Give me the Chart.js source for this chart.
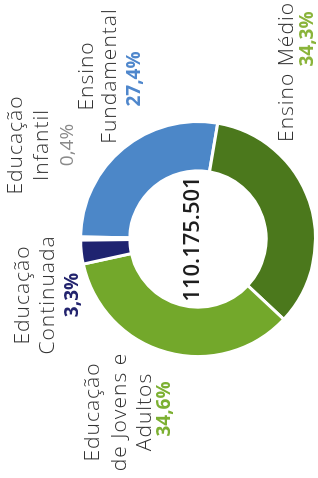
<!DOCTYPE html>
<html>
<head>
<meta charset="utf-8">
<script src="https://cdn.jsdelivr.net/npm/chart.js@4"></script>
<style>
  html, body { margin: 0; padding: 0; background: #fff; }
  body { width: 318px; height: 478px; overflow: hidden; position: relative; }
  /* o gráfico original está girado 90° (texto de baixo para cima) */
  #wrap {
    position: absolute; left: -80px; top: 80px;
    width: 478px; height: 318px;
    transform: rotate(-90deg);
  }
</style>
</head>
<body>
<div id="wrap"><canvas id="chart" width="478" height="318"></canvas></div>
<script>
// Dados
const categorias = ['Ensino Fundamental', 'Ensino Médio', 'Educação de Jovens e Adultos', 'Educação Continuada', 'Educação Infantil'];
const percentuais = [27.4, 34.3, 34.6, 3.3, 0.4];
const rotulosPct = ['27,4%', '34,3%', '34,6%', '3,3%', '0,4%'];
const total = '110.175.501';

const cores = ['#4c87c8', '#4b781c', '#73a82b', '#1f2370', '#ffffff'];
const coresPct = ['#4f87cc', '#8ab43a', '#7cb032', '#23246e', '#8a8a8a'];

// Posição dos rótulos (deslocamento em relação ao centro)
const rotulos = [
  { linhas: ['Ensino', 'Fundamental'], dx: 163, dy: [-111, -88], pct: [160, -63] },
  { linhas: ['Ensino Médio'], dx: 167, dy: [89], pct: [200, 110] },
  { linhas: ['Educação', 'de Jovens e', 'Adultos'], dx: -173, dy: [-105, -78, -53], pct: [-170, -33] },
  { linhas: ['Educação', 'Continuada'], dx: -56, dy: [-175, -150], pct: [-56, -125] },
  { linhas: ['Educação', 'Infantil'], dx: 94, dy: [-182, -156], pct: [94, -130] },
];

const rotulosPlugin = {
  id: 'rotulos',
  afterDraw(chart) {
    const ctx = chart.ctx;
    const arc = chart.getDatasetMeta(0).data[0];
    const cx = arc.x, cy = arc.y;
    ctx.save();
    ctx.textAlign = 'center';
    ctx.textBaseline = 'middle';
    rotulos.forEach((r, i) => {
      ctx.font = '300 21px "Open Sans"';
      ctx.letterSpacing = '1px';
      ctx.fillStyle = '#333333';
      r.linhas.forEach((t, j) => ctx.fillText(t, cx + r.dx, cy + r.dy[j]));
      ctx.letterSpacing = '0px';
      ctx.font = (i === 4 ? '400' : '700') + ' 19px "Open Sans"';
      ctx.fillStyle = coresPct[i];
      ctx.fillText(rotulosPct[i], cx + r.pct[0], cy + r.pct[1]);
    });
    // total no centro
    ctx.font = '600 22px "Open Sans"';
    ctx.fillStyle = '#1e1e1e';
    ctx.fillText(total, cx, cy - 5);
    ctx.restore();
  }
};

new Chart(document.getElementById('chart'), {
  type: 'doughnut',
  data: {
    labels: categorias,
    datasets: [{
      data: percentuais,
      backgroundColor: cores,
      borderColor: '#ffffff',
      borderWidth: 3,
    }],
  },
  options: {
    responsive: false,
    animation: false,
    rotation: 1,
    cutout: '58%',
    layout: { padding: { top: 79, bottom: 1 } },
    plugins: {
      legend: { display: false },
      tooltip: { enabled: false },
    },
  },
  plugins: [rotulosPlugin],
});
</script>
</body>
</html>
